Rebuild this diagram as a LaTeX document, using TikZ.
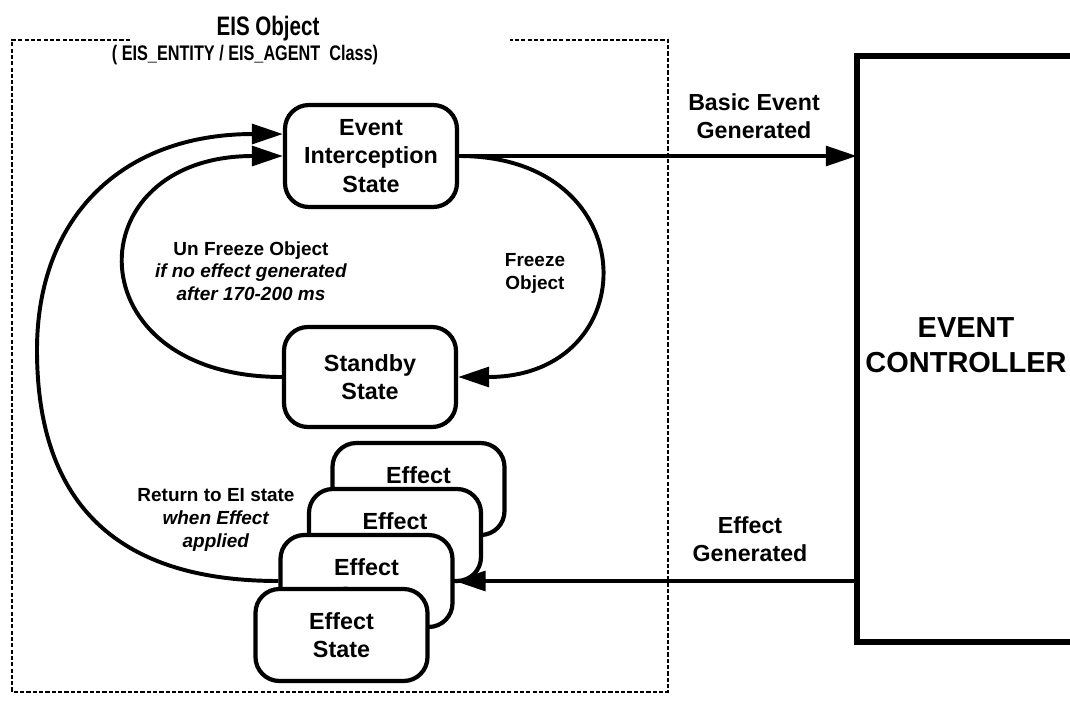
\documentclass[tikz,border=0pt]{standalone}
\usepackage{fontspec}
\setmainfont{Liberation Sans}
\newfontfamily\narrowsans[FakeStretch=0.77]{Liberation Sans}
\usetikzlibrary{arrows.meta}

\begin{document}
\begin{tikzpicture}[x=0.25cm,y=-0.25cm,
    state/.style={draw,line width=3pt,rounded corners=17pt,fill=white,align=center,
      minimum width=4.3cm,inner sep=0pt,font=\fontsize{16.6}{20.2}\selectfont\bfseries},
    lbl/.style={align=center,font=\fontsize{13.5}{16.2}\selectfont\bfseries},
    biglbl/.style={align=center,font=\fontsize{16.5}{19.8}\selectfont\bfseries},
    conn/.style={line width=2.8pt,-{Triangle[length=22pt,width=14pt]}}]
\useasboundingbox (0,0) rectangle (107,70.2);
\draw[line width=2pt,dash pattern=on 3pt off 1.5pt]
  (13,4) -- (1.2,4) -- (1.2,69.2) -- (66.8,69.2) -- (66.8,4) -- (51,4);
\node[font=\narrowsans\bfseries\fontsize{19}{21}\selectfont] (title) at (26.8,2.9) {EIS Object};
\node[font=\narrowsans\bfseries\fontsize{15}{17}\selectfont] (sub) at (24.5,5.5) {( EIS\_ENTITY / EIS\_AGENT~~Class)};
\node[state,minimum height=2.55cm] (ei) at (37.1,15.6) {Event\\Interception\\State};
\node[state,minimum height=2.5cm] (sb) at (37,37.7) {Standby\\State};
\foreach \i/\x/\y/\txt in {1/41.85/48.9/{Effect\\\phantom{State}},2/39.5/53.5/{Effect\\\phantom{State}},
    3/36.65/58.1/{Effect\\State},4/34.15/63.5/{Effect\\State}}
  \node[state,minimum height=2.3cm] (eff\i) at (\x,\y) {\txt};
\node (ctrl) at (96.6,34.9) [minimum width=5.45cm,minimum height=14.65cm] {};
\draw[line width=4.2pt] (ctrl.north east) -- (ctrl.north west) -- (ctrl.south west) -- (ctrl.south east);
\node[font=\fontsize{20.6}{25}\selectfont\bfseries,align=center] (ctrltext) at (96.6,34.5) {EVENT\\CONTROLLER};
\coordinate (retleft) at (3.7,35);
\draw[conn] (ei.east) .. controls +(18.8,0) and +(18.8,0) .. (sb.east);
\draw[conn] (sb.west) .. controls +(-20.9,0) and +(-20.9,0) .. (ei.west);
\draw[conn] (eff3.west) .. controls +(-15.8,0) and +(0,15.7) .. (retleft)
  .. controls +(0,-13.3) and +(-16.1,0) .. (ei.166);
\draw[conn] (ei.east) -- (ei.east -| ctrl.west);
\draw[conn] (eff3.east -| ctrl.west) -- (eff3.east);
\node[lbl] (unfreeze) at (25.1,27.1) {Un Freeze Object\\\textit{if no effect generated}\\\textit{after 170-200 ms}};
\node[lbl] (freeze) at (53.5,27.35) {Freeze\\Object};
\node[lbl] (ret) at (21.6,52) {Return to EI state\\\textit{when Effect}\\\textit{applied}};
\node[biglbl] (basic) at (75.4,11.6) {Basic Event\\Generated};
\node[biglbl] (effgen) at (75,53.9) {Effect\\Generated};
\end{tikzpicture}
\end{document}
